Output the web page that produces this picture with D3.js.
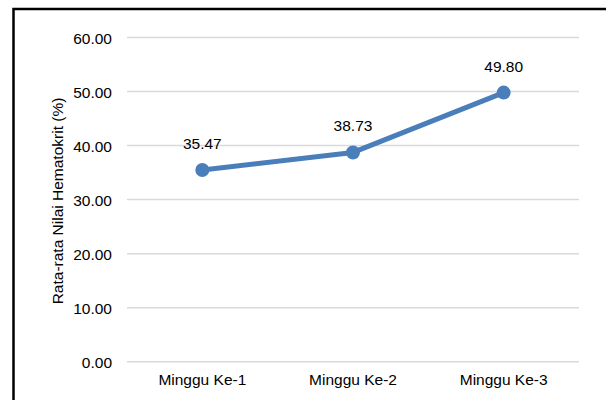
<!DOCTYPE html>
<html><head><meta charset="utf-8">
<script src="https://cdn.jsdelivr.net/npm/d3@7"></script>
<style>body{margin:0;background:#fff}svg{display:block}</style>
</head><body>
<script>
const categories = ["Minggu Ke-1", "Minggu Ke-2", "Minggu Ke-3"];
const values = [35.47, 38.73, 49.80];
const valueLabels = ["35.47", "38.73", "49.80"];
const yTicks = [0, 10, 20, 30, 40, 50, 60];
const yTitle = "Rata-rata Nilai Hematokrit (%)";

(function () {
const W = 606, H = 400;
const svg = d3.select("body").append("svg").attr("width", W).attr("height", H);
const font = "'Liberation Sans', Arial, sans-serif";

// outer border (only top and left visible)
svg.append("rect").attr("x", 13.5).attr("y", 9).attr("width", 700).attr("height", 500)
  .attr("fill", "none").attr("stroke", "#000").attr("stroke-width", 2.5);

const pLeft = 127, pRight = 579, pTop = 37.5, pBottom = 361.7;
const x = d3.scaleBand().domain(categories).range([pLeft, pRight]);
const y = d3.scaleLinear().domain([0, 60]).range([pBottom, pTop]);

// gridlines
svg.append("g").selectAll("line").data(yTicks).join("line")
  .attr("x1", pLeft).attr("x2", pRight)
  .attr("y1", d => y(d)).attr("y2", d => y(d))
  .attr("stroke", "#d9d9d9").attr("stroke-width", 1.5);

// y axis labels
const yAxis = d3.axisLeft(y).tickValues(yTicks).tickFormat(d3.format(".2f")).tickSize(0).tickPadding(0);
const ya = svg.append("g").attr("transform", `translate(112,0)`).call(yAxis);
ya.select(".domain").remove();
ya.selectAll("text").attr("font-family", font).attr("font-size", 15.5).attr("fill", "#000").attr("dy", "0.36em");

// x axis labels
const xAxis = d3.axisBottom(x).tickSize(0).tickPadding(0);
const xa = svg.append("g").attr("transform", `translate(0,374)`).call(xAxis);
xa.select(".domain").remove();
xa.selectAll("text").attr("font-family", font).attr("font-size", 15.5).attr("fill", "#000").attr("dy", "0.71em");

// y title
svg.append("text").attr("transform", `translate(63,201) rotate(-90)`)
  .attr("text-anchor", "middle").attr("font-family", font).attr("font-size", 15.5)
  .attr("fill", "#000").text(yTitle);

const cx = d => x(d) + x.bandwidth() / 2;
const pts = categories.map((c, i) => [cx(c), y(values[i])]);

svg.append("path").attr("d", d3.line()(pts)).attr("fill", "none")
  .attr("stroke", "#4a7ebb").attr("stroke-width", 5).attr("stroke-linejoin", "round");

svg.append("g").selectAll("circle").data(pts).join("circle")
  .attr("cx", d => d[0]).attr("cy", d => d[1]).attr("r", 7).attr("fill", "#4a7ebb");

svg.append("g").selectAll("text").data(categories).join("text")
  .attr("x", c => cx(c)).attr("y", (c, i) => y(values[i]) - 21)
  .attr("text-anchor", "middle").attr("font-family", font).attr("font-size", 15.5)
  .attr("fill", "#000").text((c, i) => valueLabels[i]);
})();
</script>
</body></html>
